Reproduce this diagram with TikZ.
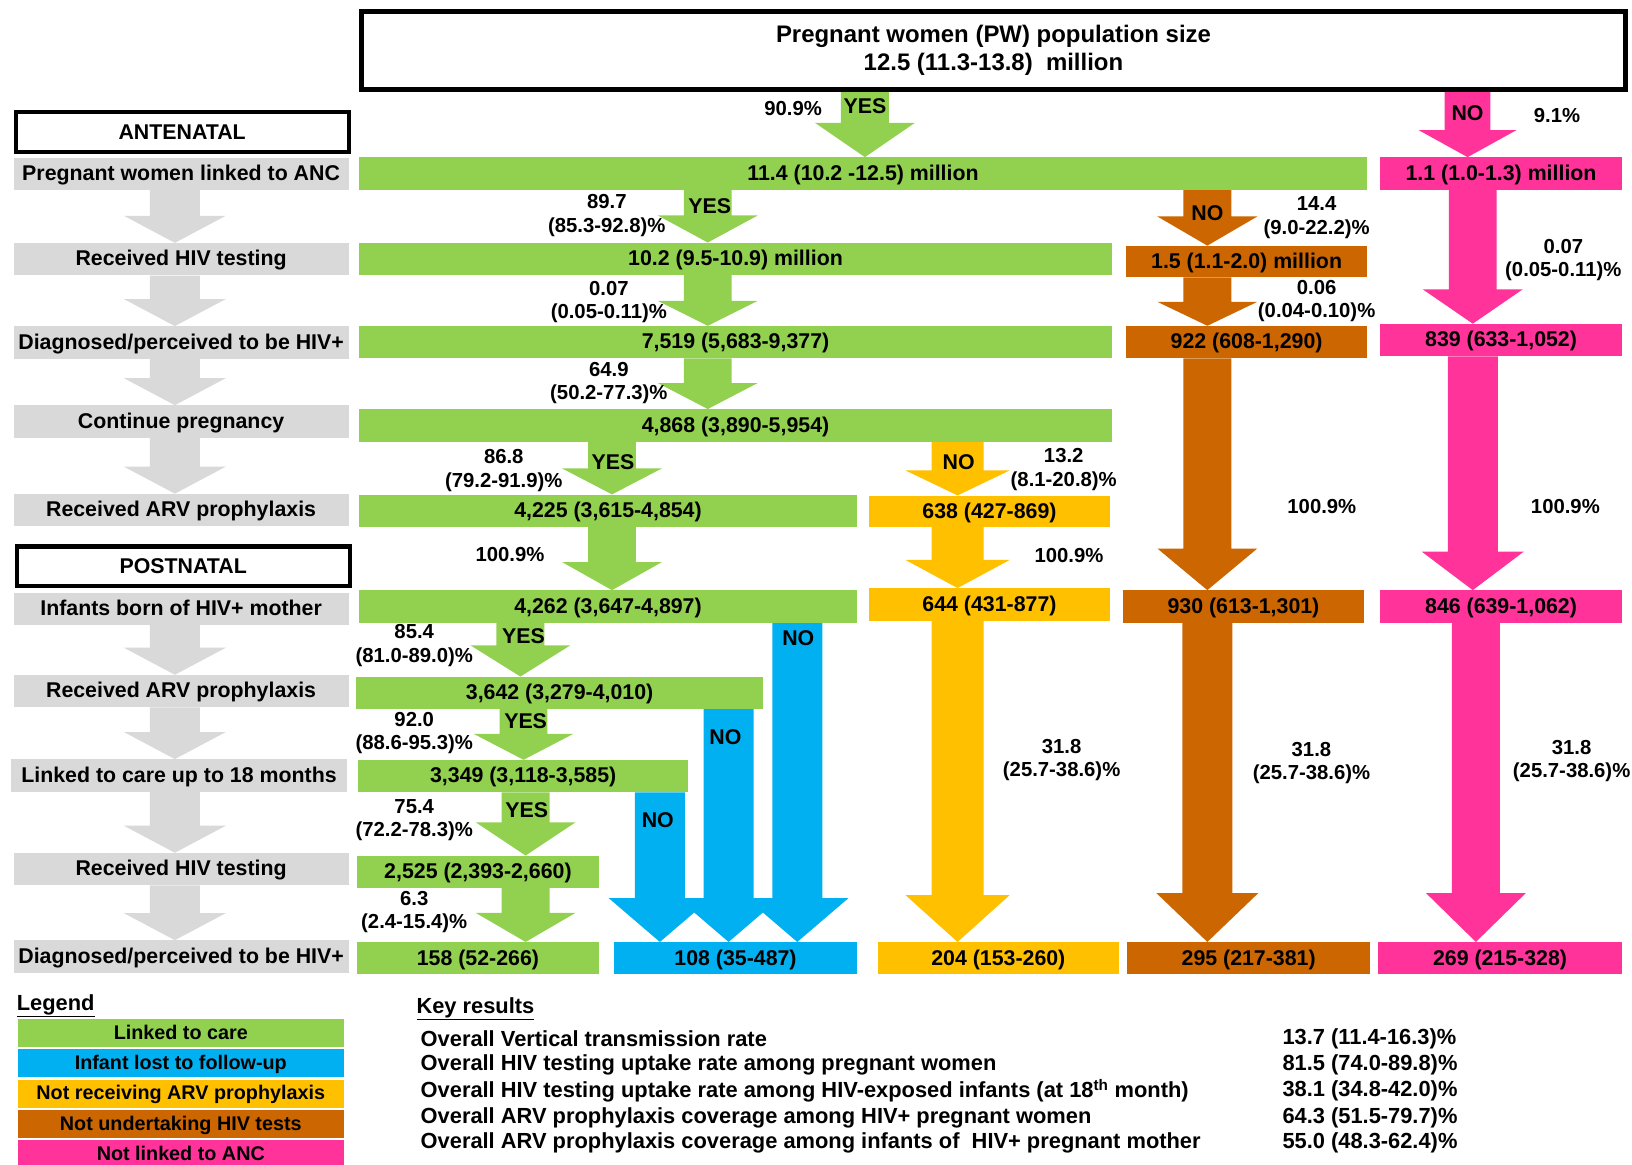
\documentclass[tikz,border=0pt]{standalone}
\usepackage{fontspec}
\setmainfont{Liberation Sans}
\usetikzlibrary{calc, backgrounds}
\definecolor{cgreen}{HTML}{92D050}
\definecolor{cblue}{HTML}{00B0F0}
\definecolor{cyellow}{HTML}{FFC000}
\definecolor{cbrown}{HTML}{CC6600}
\definecolor{cpink}{HTML}{FF3399}
\definecolor{cgray}{HTML}{D9D9D9}
\newcommand{\barfont}{\fontsize{20.5}{24}\selectfont\bfseries}
\newcommand{\pctfont}{\fontsize{19.5}{22.5}\selectfont\bfseries}
\newcommand{\titlefont}{\fontsize{23}{27}\selectfont\bfseries}
\newcommand{\legfont}{\fontsize{19}{22}\selectfont\bfseries}
\newcommand{\keyfont}{\fontsize{21}{24}\selectfont\bfseries}
% block arrow: colour, x, from node, to node, half shaft, head length
\newcommand{\flowarrow}[6]{%
  \fill[#1] let \p1=(#3.south), \p2=(#4.north) in
    ({#2-#5},\y1) -- ({#2+#5},\y1) -- ({#2+#5},\y2+#6) -- ({#2+#5+25},\y2+#6)
    -- (#2,\y2) -- ({#2-#5-25},\y2+#6) -- ({#2-#5},\y2+#6) -- cycle;}
\tikzset{
  bar/.style={fill=#1, anchor=north west, inner sep=0pt, minimum height=31, font=\barfont,
    text height=15, text depth=2},
  stage/.style={fill=cgray, inner sep=0pt, minimum width=322, minimum height=31, font=\barfont,
    text height=15, text depth=2},
  phase/.style={draw=black, line width=4pt, fill=white, inner sep=0pt, minimum width=320, minimum height=38, font=\barfont},
  pct/.style={font=\pctfont, align=center, inner sep=0pt},
  yesno/.style={font=\barfont, inner sep=0pt},
  legbox/.style={fill=#1, anchor=north west, inner sep=0pt, minimum width=313, minimum height=27, font=\legfont,
    text height=14, text depth=2},
  keyline/.style={font=\keyfont, anchor=west, inner sep=0pt},
}

\begin{document}
\begin{tikzpicture}[x=1pt, y=-1pt]
  \useasboundingbox (0,0) rectangle (1568,1119);
  % population box along the top
  \node[draw=black, line width=4.5pt, fill=white, minimum width=1215, minimum height=75, inner sep=0pt, align=center, font=\titlefont] (pop) at (954.5,48.5) {Pregnant women (PW) population size\\12.5 (11.3-13.8)\ \ million};

  % phases and stages on the left
  \node[phase] (ant) at (175,127) {ANTENATAL};
  \node[phase] (post) at (176,544) {POSTNATAL};
  \node[stage] (s1) at (174,167) {Pregnant women linked to ANC};
  \node[stage] (s2) at (174,249) {Received HIV testing};
  \node[stage] (s3) at (174,329) {Diagnosed/perceived to be HIV+};
  \node[stage] (s4) at (174,405) {Continue pregnancy};
  \node[stage] (s5) at (174,490) {Received ARV prophylaxis};
  \node[stage] (s6) at (174,585) {Infants born of HIV+ mother};
  \node[stage] (s7) at (174,664) {Received ARV prophylaxis};
  \node[stage] (s8) at (172,745) {Linked to care up to 18 months};
  \node[stage] (s9) at (174,835) {Received HIV testing};
  \node[stage] (s10) at (174,919) {Diagnosed/perceived to be HIV+};

  % linked to care
  \node[bar=cgreen, minimum width=968] (g1) at (345,151) {11.4 (10.2 -12.5) million};
  \node[bar=cgreen, minimum width=723] (g2) at (345,233) {10.2 (9.5-10.9) million};
  \node[bar=cgreen, minimum width=723] (g3) at (345,313) {7,519 (5,683-9,377)};
  \node[bar=cgreen, minimum width=723] (g4) at (345,393) {4,868 (3,890-5,954)};
  \node[bar=cgreen, minimum width=478] (g5) at (345,475) {4,225 (3,615-4,854)};
  \node[bar=cgreen, minimum width=478] (g6) at (345,567) {4,262 (3,647-4,897)};
  \node[bar=cgreen, minimum width=391] (g7) at (342,650) {3,642 (3,279-4,010)};
  \node[bar=cgreen, minimum width=317] (g8) at (344,730) {3,349 (3,118-3,585)};
  \node[bar=cgreen, minimum width=232] (g9) at (343,822) {2,525 (2,393-2,660)};
  \node[bar=cgreen, minimum width=232] (g10) at (343,905) {158 (52-266)};
  % lost, not receiving, not tested, not linked
  \node[bar=cblue, minimum width=233] (bl) at (590,905) {108 (35-487)};
  \node[bar=cyellow, minimum width=231, minimum height=30] (y1) at (835,476) {638 (427-869)};
  \node[bar=cyellow, minimum width=231] (y2) at (835,565) {644 (431-877)};
  \node[bar=cyellow, minimum width=232] (y3) at (843,905) {204 (153-260)};
  \node[bar=cbrown, minimum width=231, minimum height=30] (b1) at (1082,236) {1.5 (1.1-2.0) million};
  \node[bar=cbrown, minimum width=231] (b2) at (1082,313) {922 (608-1,290)};
  \node[bar=cbrown, minimum width=231] (b3) at (1079,567) {930 (613-1,301)};
  \node[bar=cbrown, minimum width=233] (b4) at (1083,905) {295 (217-381)};
  \node[bar=cpink, minimum width=232] (p1) at (1326,151) {1.1 (1.0-1.3) million};
  \node[bar=cpink, minimum width=232] (p2) at (1326,311) {839 (633-1,052)};
  \node[bar=cpink, minimum width=232] (p3) at (1326,567) {846 (639-1,062)};
  \node[bar=cpink, minimum width=234] (p4) at (1324,905) {269 (215-328)};

  \begin{scope}[on background layer]
    \fill[white] (0,0) rectangle (1568,1119);
    \foreach \a/\b in {s1/s2, s2/s3, s3/s4, s4/s5, s6/s7, s7/s8, s8/s9, s9/s10}
      \flowarrow{cgray}{168}{\a}{\b}{24}{26};
    \flowarrow{cgreen}{831}{pop}{g1}{23}{33}
    \flowarrow{cgreen}{680}{g1}{g2}{23}{26}
    \flowarrow{cgreen}{680}{g2}{g3}{23}{24}
    \flowarrow{cgreen}{680}{g3}{g4}{23}{25}
    \flowarrow{cgreen}{588}{g4}{g5}{23}{25}
    \flowarrow{cgreen}{588}{g5}{g6}{23}{27}
    \flowarrow{cgreen}{500}{g6}{g7}{23}{30}
    \flowarrow{cgreen}{503}{g7}{g8}{23}{25}
    \flowarrow{cgreen}{505}{g8}{g9}{23}{32}
    \flowarrow{cgreen}{505}{g9}{g10}{23}{28}
    \flowarrow{cpink}{1410}{pop}{p1}{22}{26}
    \flowarrow{cpink}{1415}{p1}{p2}{23}{33}
    \flowarrow{cpink}{1415}{p2}{p3}{24}{37}
    \flowarrow{cpink}{1418}{p3}{p4}{23}{47}
    \flowarrow{cbrown}{1160}{g1}{b1}{23}{28}
    \flowarrow{cbrown}{1160}{b1}{b2}{23}{23}
    \flowarrow{cbrown}{1160}{b2}{b3}{23}{40}
    \flowarrow{cbrown}{1160}{b3}{b4}{24}{47}
    \flowarrow{cyellow}{920}{g4}{y1}{25}{24}
    \flowarrow{cyellow}{920}{y1}{y2}{25}{27}
    \flowarrow{cyellow}{920}{y2}{y3}{25}{45}
    \flowarrow{cblue}{766}{g6}{bl}{24}{42}
    \flowarrow{cblue}{700}{g7}{bl}{24}{42}
    \flowarrow{cblue}{634}{g8}{bl}{24}{42}
  \end{scope}

  % answers on the arrows
  \foreach \x/\y/\t [count=\i] in {831/102/YES, 682/198/YES, 589/444/YES, 503/611/YES, 505/693/YES, 506/778/YES,
      1410/109/NO, 1160/205/NO, 921/444/NO, 767/613/NO, 697/708/NO, 632/788/NO}
    \node[yesno] (yn\i) at (\x,\y) {\t};
  % rates
  \foreach \x/\y/\t [count=\i] in {762/104/{90.9\%}, 583/207/{89.7\\(85.3-92.8)\%}, 585/290/{0.07\\(0.05-0.11)\%},
      585/368/{64.9\\(50.2-77.3)\%}, 484/452/{86.8\\(79.2-91.9)\%}, 490/533/{100.9\%},
      398/620/{85.4\\(81.0-89.0)\%}, 398/704/{92.0\\(88.6-95.3)\%}, 398/788/{75.4\\(72.2-78.3)\%},
      398/876/{6.3\\(2.4-15.4)\%}, 1265/209/{14.4\\(9.0-22.2)\%}, 1265/289/{0.06\\(0.04-0.10)\%},
      1270/487/{100.9\%}, 1260/733/{31.8\\(25.7-38.6)\%}, 1022/451/{13.2\\(8.1-20.8)\%},
      1027/534/{100.9\%}, 1020/730/{31.8\\(25.7-38.6)\%}, 1496/111/{9.1\%},
      1502/250/{0.07\\(0.05-0.11)\%}, 1504/487/{100.9\%}, 1510/731/{31.8\\(25.7-38.6)\%}}
    \node[pct] (r\i) at (\x,\y) {\t};

  % legend
  \node[keyline] (legend) at (16,966) {\underline{Legend}};
  \foreach \c/\t [count=\i] in {cgreen/Linked to care, cblue/Infant lost to follow-up,
      cyellow/Not receiving ARV prophylaxis, cbrown/Not undertaking HIV tests, cpink/Not linked to ANC}
    \node[legbox=\c] (leg\i) at (17,{979+29*(\i-1)}) {\t};

  % key results
  \node[keyline] (key) at (400,969) {\underline{Key results}};
  \foreach \y/\t/\v [count=\i] in {998/Overall Vertical transmission rate/13.7 (11.4-16.3)\%,
      1023/Overall HIV testing uptake rate among pregnant women/81.5 (74.0-89.8)\%,
      1048/Overall HIV testing uptake rate among HIV-exposed infants (at 18\textsuperscript{th} month)/38.1 (34.8-42.0)\%,
      1074/Overall ARV prophylaxis coverage among HIV+ pregnant women/64.3 (51.5-79.7)\%,
      1098/Overall ARV prophylaxis coverage among infants of\ \ HIV+ pregnant mother/55.0 (48.3-62.4)\%} {
    \node[keyline] (kt\i) at (404,\y) {\t};
    \node[keyline] (kv\i) at (1232,\y) {\v};
  }
\end{tikzpicture}
\end{document}
